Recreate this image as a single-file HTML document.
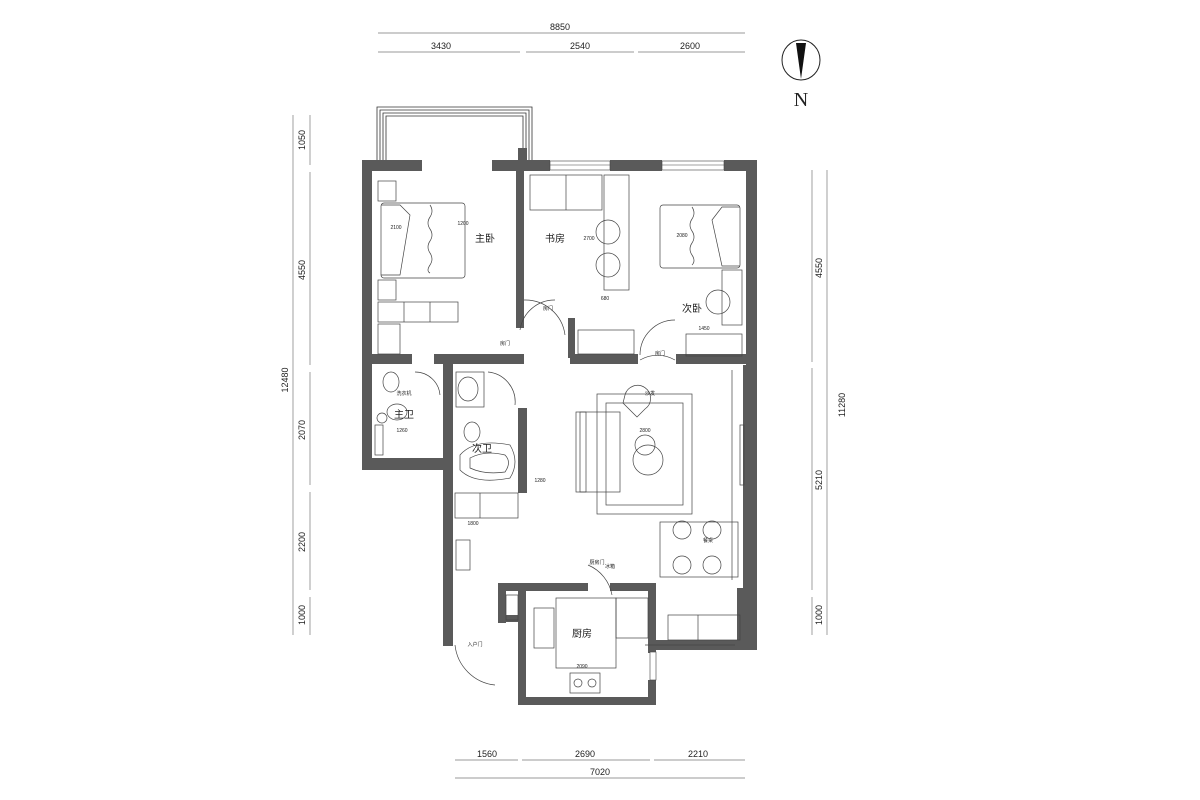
<!DOCTYPE html>
<html><head><meta charset="utf-8"><style>
html,body{margin:0;padding:0;background:#fff;}
svg{display:block;}
text{font-family:"Liberation Sans","Noto Sans CJK SC",sans-serif;fill:#222;}
.s{font-size:5px;}
.l{font-size:9px;}
.r{font-size:10px;}
</style></head><body>
<svg width="1200" height="800" viewBox="0 0 1200 800" xmlns="http://www.w3.org/2000/svg">
<g stroke="#777" stroke-width="0.7" fill="none">
<line x1="378" y1="33" x2="745" y2="33"/>
<line x1="378" y1="52" x2="520" y2="52"/><line x1="526" y1="52" x2="634" y2="52"/><line x1="638" y1="52" x2="745" y2="52"/>
<line x1="293" y1="115" x2="293" y2="635"/>
<line x1="310" y1="115" x2="310" y2="165"/><line x1="310" y1="172" x2="310" y2="365"/><line x1="310" y1="372" x2="310" y2="485"/><line x1="310" y1="492" x2="310" y2="590"/><line x1="310" y1="597" x2="310" y2="635"/>
<line x1="827" y1="170" x2="827" y2="635"/>
<line x1="812" y1="170" x2="812" y2="362"/><line x1="812" y1="368" x2="812" y2="590"/><line x1="812" y1="597" x2="812" y2="635"/>
<line x1="455" y1="760" x2="518" y2="760"/><line x1="522" y1="760" x2="650" y2="760"/><line x1="654" y1="760" x2="745" y2="760"/>
<line x1="455" y1="778" x2="745" y2="778"/>
</g>
<g class="l" text-anchor="middle">
<text x="560" y="30">8850</text>
<text x="441" y="49">3430</text><text x="580" y="49">2540</text><text x="690" y="49">2600</text>
<text x="487" y="757">1560</text><text x="585" y="757">2690</text><text x="698" y="757">2210</text>
<text x="600" y="775">7020</text>
<text transform="translate(288,380) rotate(-90)">12480</text>
<text transform="translate(305,140) rotate(-90)">1050</text>
<text transform="translate(305,270) rotate(-90)">4550</text>
<text transform="translate(305,430) rotate(-90)">2070</text>
<text transform="translate(305,542) rotate(-90)">2200</text>
<text transform="translate(305,615) rotate(-90)">1000</text>
<text transform="translate(845,405) rotate(-90)">11280</text>
<text transform="translate(822,268) rotate(-90)">4550</text>
<text transform="translate(822,480) rotate(-90)">5210</text>
<text transform="translate(822,615) rotate(-90)">1000</text>
</g>
<ellipse cx="801" cy="60" rx="19" ry="20" fill="none" stroke="#222" stroke-width="1"/>
<polygon points="796,43 806,43 801,79" fill="#111"/>
<text x="801" y="106" text-anchor="middle" style="font-family:'Liberation Serif',serif;font-size:20px">N</text>
<g fill="none" stroke="#333" stroke-width="0.8">
<path d="M377,162 V107 H532 V162"/><path d="M380,162 V110 H529 V160"/><path d="M383,162 V113 H526 V160"/><path d="M386,162 V116 H523 V160"/>
</g>
<g fill="#5a5a5a">
<rect x="362" y="160" width="60" height="11"/>
<rect x="492" y="160" width="58" height="11"/>
<rect x="518" y="148" width="9" height="22"/>
<rect x="610" y="160" width="52" height="11"/>
<rect x="724" y="160" width="33" height="11"/>
<rect x="362" y="160" width="10" height="310"/>
<rect x="746" y="160" width="11" height="205"/>
<rect x="516" y="168" width="8" height="160"/>
<rect x="362" y="354" width="50" height="10"/>
<rect x="434" y="354" width="90" height="10"/>
<rect x="570" y="354" width="68" height="10"/>
<rect x="676" y="354" width="81" height="10"/>
<rect x="568" y="318" width="7" height="40"/>
<rect x="362" y="458" width="90" height="12"/>
<rect x="443" y="362" width="10" height="284"/>
<rect x="518" y="408" width="9" height="85"/>
<rect x="743" y="365" width="14" height="230"/>
<rect x="737" y="588" width="20" height="60"/>
<rect x="650" y="640" width="107" height="10"/>
<rect x="498" y="583" width="90" height="8"/>
<rect x="610" y="583" width="46" height="8"/>
<rect x="648" y="583" width="8" height="70"/>
<rect x="518" y="583" width="8" height="122"/>
<rect x="498" y="583" width="8" height="40"/>
<rect x="498" y="615" width="28" height="7"/>
<rect x="518" y="697" width="138" height="8"/>
<rect x="648" y="680" width="8" height="25"/>
</g>
<g fill="#fff" stroke="#444" stroke-width="0.6">
<rect x="550" y="161" width="60" height="9"/><line x1="550" y1="165" x2="610" y2="165"/>
<rect x="662" y="161" width="62" height="9"/><line x1="662" y1="165" x2="724" y2="165"/>
<rect x="650" y="652" width="6" height="28"/>
</g>
<g fill="none" stroke="#444" stroke-width="0.7">
<rect x="381" y="203" width="84" height="75" rx="3"/><path d="M381,205 H400 L410,215 L400,275 H381"/>
<path d="M430,205 q4,6 0,12 q-4,6 0,12 q4,6 0,12 q-4,6 0,12 q4,6 0,12 q-4,6 0,8"/>
<rect x="378" y="181" width="18" height="20"/><rect x="378" y="280" width="18" height="20"/>
<rect x="378" y="302" width="80" height="20"/><line x1="404" y1="302" x2="404" y2="322"/><line x1="430" y1="302" x2="430" y2="322"/>
<rect x="378" y="324" width="22" height="30"/>
<rect x="530" y="175" width="72" height="35"/><line x1="566" y1="175" x2="566" y2="210"/>
<rect x="604" y="175" width="25" height="115"/>
<circle cx="608" cy="232" r="12"/><circle cx="608" cy="265" r="12"/>
<path d="M520,330 A35,35 0 0 1 555,300"/><path d="M524,300 A40,40 0 0 1 565,335"/>
<rect x="578" y="330" width="56" height="24"/>
<rect x="660" y="205" width="80" height="63" rx="3"/><path d="M740,207 H722 L712,220 L722,266 H740"/>
<path d="M692,207 q4,6 0,12 q-4,6 0,12 q4,6 0,12 q-4,6 0,12 q4,6 0,10"/>
<rect x="722" y="270" width="20" height="55"/><circle cx="718" cy="302" r="12"/>
<rect x="686" y="334" width="56" height="22"/>
<path d="M640,355 A35,35 0 0 1 675,320"/><path d="M640,360 A35,35 0 0 1 675,360"/>
<ellipse cx="391" cy="382" rx="8" ry="10"/><ellipse cx="397" cy="412" rx="10" ry="8"/>
<rect x="375" y="425" width="8" height="30"/><circle cx="382" cy="418" r="5"/>
<path d="M415,372 A25,25 0 0 1 440,395"/>
<ellipse cx="468" cy="389" rx="10" ry="12"/><rect x="456" y="372" width="28" height="35"/>
<ellipse cx="472" cy="432" rx="8" ry="10"/>
<path d="M460,455 Q475,438 510,445 Q520,462 510,478 Q475,485 460,470 Z"/>
<path d="M470,458 Q485,450 505,455 Q512,462 505,472 Q485,475 470,468 Z"/>
<path d="M488,372 A30,30 0 0 1 515,405"/>
<rect x="455" y="493" width="63" height="25"/><line x1="480" y1="493" x2="480" y2="518"/>
<rect x="597" y="394" width="95" height="120"/><rect x="606" y="403" width="77" height="102"/>
<rect x="580" y="412" width="40" height="80"/><rect x="576" y="412" width="10" height="80"/>
<path d="M625,395 a13,13 0 1 1 20,14 l-8,8 l-14,-14 z"/>
<circle cx="645" cy="445" r="10"/><circle cx="648" cy="460" r="15"/>
<line x1="732" y1="370" x2="732" y2="580"/><rect x="740" y="425" width="4" height="60"/>
<rect x="660" y="522" width="78" height="55"/>
<circle cx="682" cy="530" r="9"/><circle cx="712" cy="530" r="9"/><circle cx="682" cy="565" r="9"/><circle cx="712" cy="565" r="9"/>
<rect x="456" y="540" width="14" height="30"/>
<path d="M455,645 A45,45 0 0 0 495,685"/>
<rect x="506" y="595" width="12" height="25"/>
<rect x="534" y="608" width="20" height="40"/>
<rect x="556" y="598" width="60" height="70"/>
<rect x="616" y="598" width="32" height="40"/>
<rect x="570" y="673" width="30" height="20"/><circle cx="578" cy="683" r="4"/><circle cx="592" cy="683" r="4"/>
<path d="M588,565 A40,40 0 0 1 612,595"/>
<rect x="668" y="615" width="72" height="25"/><line x1="698" y1="615" x2="698" y2="640"/>
<line x1="645" y1="645" x2="735" y2="645"/>
</g>
<g class="r" text-anchor="middle">
<text x="485" y="242">主卧</text>
<text x="555" y="242">书房</text>
<text x="692" y="312">次卧</text>
<text x="404" y="418">主卫</text>
<text x="482" y="452">次卫</text>
<text x="582" y="637">厨房</text>
</g>
<g class="s" text-anchor="middle">
<text x="396" y="229">2100</text><text x="463" y="225">1200</text><text x="605" y="300">680</text><text x="589" y="240">2700</text>
<text x="682" y="237">2080</text><text x="704" y="330">1450</text><text x="645" y="432">2800</text>
<text x="540" y="482">1280</text><text x="473" y="525">1800</text><text x="582" y="668">2090</text>
<text x="402" y="432">1260</text><text x="404" y="395">洗衣机</text>
<text x="610" y="568">冰箱</text><text x="597" y="564">厨房门</text>
<text x="548" y="310">房门</text><text x="505" y="345">房门</text><text x="660" y="355">房门</text>
<text x="475" y="646">入户门</text><text x="650" y="395">沙发</text><text x="708" y="542">餐桌</text>
</g>
</svg>
</body></html>
